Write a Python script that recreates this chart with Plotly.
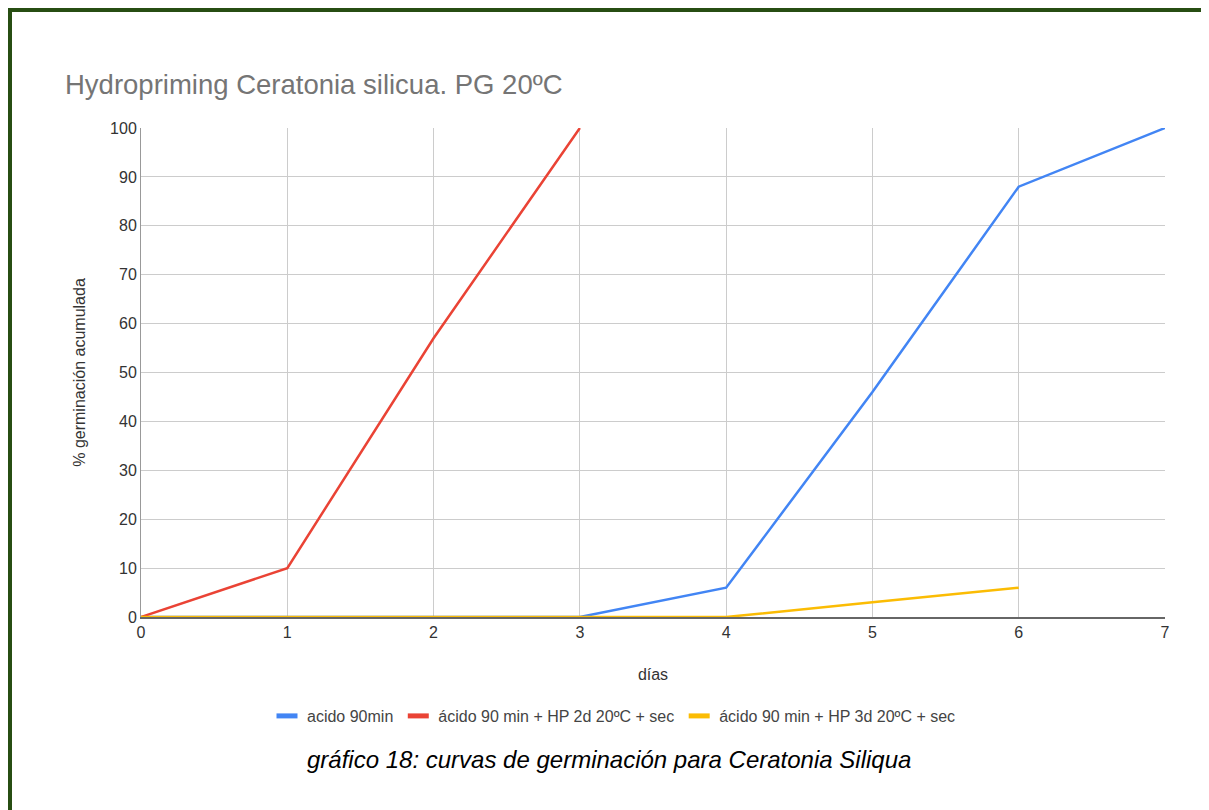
import plotly.graph_objects as go

dias = [0, 1, 2, 3, 4, 5, 6, 7]
acido_90 = [0, 0, 0, 0, 6, 46, 88, 100]
hp_2d = [0, 10, 57, 100, None, None, None, None]
hp_3d = [0, 0, 0, 0, 0, 3, 6, None]

series_names = ["acido 90min", "ácido 90 min + HP 2d 20ºC + sec", "ácido 90 min + HP 3d 20ºC + sec"]
colors = ["#4285F4", "#EA4335", "#FBBC04"]
y_ticks = [0, 10, 20, 30, 40, 50, 60, 70, 80, 90, 100]

# page body has an 8px margin; work in screen pixels and convert
OFF = 8
W, H = 1209 - OFF, 810 - OFF
L, R, T, B = 141 - OFF, 44, 128 - OFF, 193
PW, PH = W - L - R, H - T - B


def px(x):
    return (x - OFF - L) / PW


def py(y):
    return (H - B - (y - OFF)) / PH


fig = go.Figure()
for name, vals, c in zip(series_names, [acido_90, hp_2d, hp_3d], colors):
    fig.add_trace(go.Scatter(x=dias, y=vals, mode="lines", name=name, legendgroup=name,
                             showlegend=False, line=dict(color=c, width=2.5), connectgaps=False))
# legend swatches (short thick bars, like the original)
for name, c in zip(series_names, colors):
    fig.add_trace(go.Scatter(x=[None], y=[None], mode="markers", name=name, legendgroup=name,
                             marker=dict(symbol="line-ew", size=15, color=c,
                                         line=dict(color=c, width=5))))

font_fam = "Liberation Sans, Arial, sans-serif"
fig.update_layout(
    width=W, height=H,
    margin=dict(l=L, r=R, t=T, b=B),
    paper_bgcolor="white", plot_bgcolor="white",
    font=dict(family=font_fam, color="#444444", size=13),
    title=dict(text="Hydropriming Ceratonia silicua. PG 20ºC",
               font=dict(family=font_fam, size=27.5, color="#757575"),
               xref="container", x=(65 - OFF) / W, xanchor="left",
               yref="container", y=1 - (84 - OFF) / H, yanchor="middle"),
    showlegend=True,
    legend=dict(orientation="h", x=px(614), xanchor="center", y=py(716), yanchor="middle",
                font=dict(size=16, color="#444444"), bgcolor="rgba(0,0,0,0)"),
    xaxis=dict(range=[0, 7], tickvals=dias, showgrid=True, gridcolor="#cccccc", gridwidth=1,
               showline=True, linecolor="#666666", linewidth=2, zeroline=False,
               ticks="", tickfont=dict(size=16, color="#333333"),
               title=dict(text="días", font=dict(size=16, color="#333333"), standoff=29)),
    yaxis=dict(range=[0, 100], tickvals=y_ticks, showgrid=True, gridcolor="#cccccc", gridwidth=1,
               showline=True, linecolor="#999999", linewidth=1, zeroline=False,
               ticks="", tickfont=dict(size=16, color="#333333"),
               title=dict(text="% germinación acumulada", font=dict(size=16, color="#333333"), standoff=20)),
)

fig.add_annotation(text="<i>gráfico 18: curvas de germinación para Ceratonia Siliqua</i>",
                   xref="paper", yref="paper", x=px(609), y=py(759),
                   xanchor="center", yanchor="middle", showarrow=False,
                   font=dict(family=font_fam, size=24, color="#000000"))

border = "#274e13"
fig.add_shape(type="rect", xref="paper", yref="paper", x0=px(7), x1=px(12), y0=py(820), y1=py(7),
              fillcolor=border, line=dict(width=0), layer="above")
fig.add_shape(type="rect", xref="paper", yref="paper", x0=px(7), x1=px(1220), y0=py(12), y1=py(7),
              fillcolor=border, line=dict(width=0), layer="above")

fig.write_html("out.html")
